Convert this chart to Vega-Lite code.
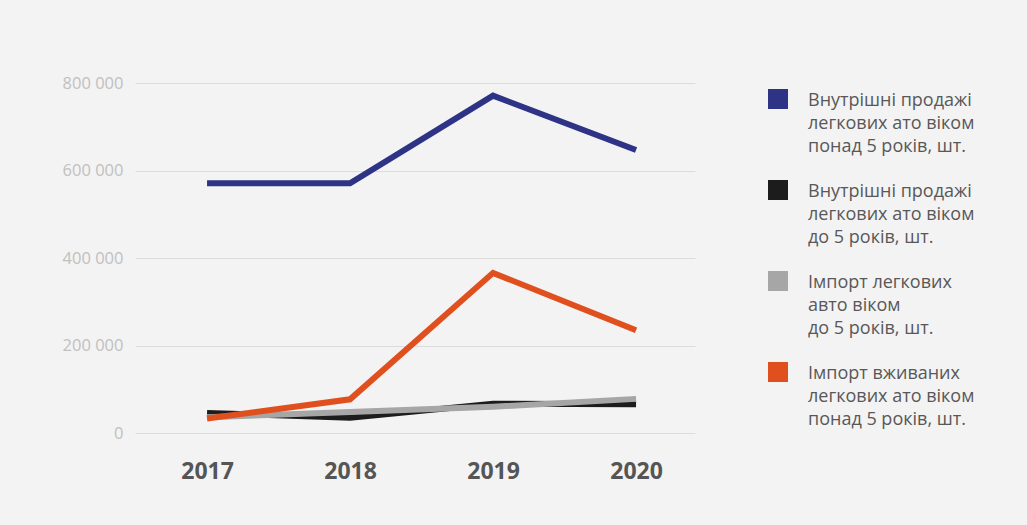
{
  "$schema": "https://vega.github.io/schema/vega-lite/v6.json",
  "width": 560,
  "height": 350,
  "autosize": {"type": "none"},
  "padding": {"left": 135, "top": 83, "right": 332, "bottom": 92},
  "background": "#f3f3f3",
  "config": {"view": {"stroke": null}, "font": "Open Sans"},
  "data": {
    "values": [
      {"year": "2017", "series": "d5", "value": 46000},
      {"year": "2018", "series": "d5", "value": 35000},
      {"year": "2019", "series": "d5", "value": 67000},
      {"year": "2020", "series": "d5", "value": 66000},
      {"year": "2017", "series": "i5", "value": 36000},
      {"year": "2018", "series": "i5", "value": 48000},
      {"year": "2019", "series": "i5", "value": 60000},
      {"year": "2020", "series": "i5", "value": 78000},
      {"year": "2017", "series": "iu", "value": 33000},
      {"year": "2018", "series": "iu", "value": 77000},
      {"year": "2019", "series": "iu", "value": 366000},
      {"year": "2020", "series": "iu", "value": 235000},
      {"year": "2017", "series": "du", "value": 571000},
      {"year": "2018", "series": "du", "value": 571000},
      {"year": "2019", "series": "du", "value": 771000},
      {"year": "2020", "series": "du", "value": 647000}
    ]
  },
  "mark": {"type": "line", "strokeWidth": 6, "strokeCap": "butt", "strokeJoin": "miter"},
  "encoding": {
    "x": {
      "field": "year", "type": "ordinal",
      "scale": {"type": "point", "padding": 0.458, "align": 0.55},
      "axis": {"title": null, "domain": false, "ticks": false, "grid": false, "labelAngle": 0,
               "labelFontSize": 23, "labelFontWeight": "bold", "labelColor": "#555555", "labelPadding": 27}
    },
    "y": {
      "field": "value", "type": "quantitative",
      "scale": {"domain": [0, 800000], "nice": false},
      "axis": {"title": null, "domain": false, "ticks": false, "values": [0, 200000, 400000, 600000, 800000],
               "labelExpr": "replace(format(datum.value, ','), ',', ' ')",
               "labelFontSize": 16.5, "labelColor": "#c0c0c0", "labelPadding": 12,
               "gridColor": "#dcdcdc", "gridWidth": 1}
    },
    "color": {
      "field": "series", "type": "nominal",
      "scale": {"domain": ["du", "d5", "i5", "iu"], "range": ["#2e3386", "#1c1c1c", "#a6a6a6", "#e0501f"]},
      "legend": {
        "title": null, "orient": "none", "legendX": 633, "legendY": 6,
        "symbolType": "square", "symbolSize": 400, "symbolStrokeWidth": 0,
        "labelFontSize": 18, "labelColor": "#585858", "labelOffset": 20, "labelLimit": 300,
        "labelBaseline": "top", "rowPadding": 24,
        "labelExpr": "datum.value == 'du' ? ['Внутрішні продажі', 'легкових ато віком', 'понад 5 років, шт.'] : datum.value == 'd5' ? ['Внутрішні продажі', 'легкових ато віком', 'до 5 років, шт.'] : datum.value == 'i5' ? ['Імпорт легкових', 'авто віком', 'до 5 років, шт.'] : ['Імпорт вживаних', 'легкових ато віком', 'понад 5 років, шт.']",
        "encode": {
          "symbols": {"update": {"fill": {"signal": "scale('color', datum.value)"}, "strokeWidth": {"value": 0}}},
          "labels": {"update": {"lineHeight": {"value": 23}, "dy": {"value": -7}}}
        }
      }
    }
  }
}
